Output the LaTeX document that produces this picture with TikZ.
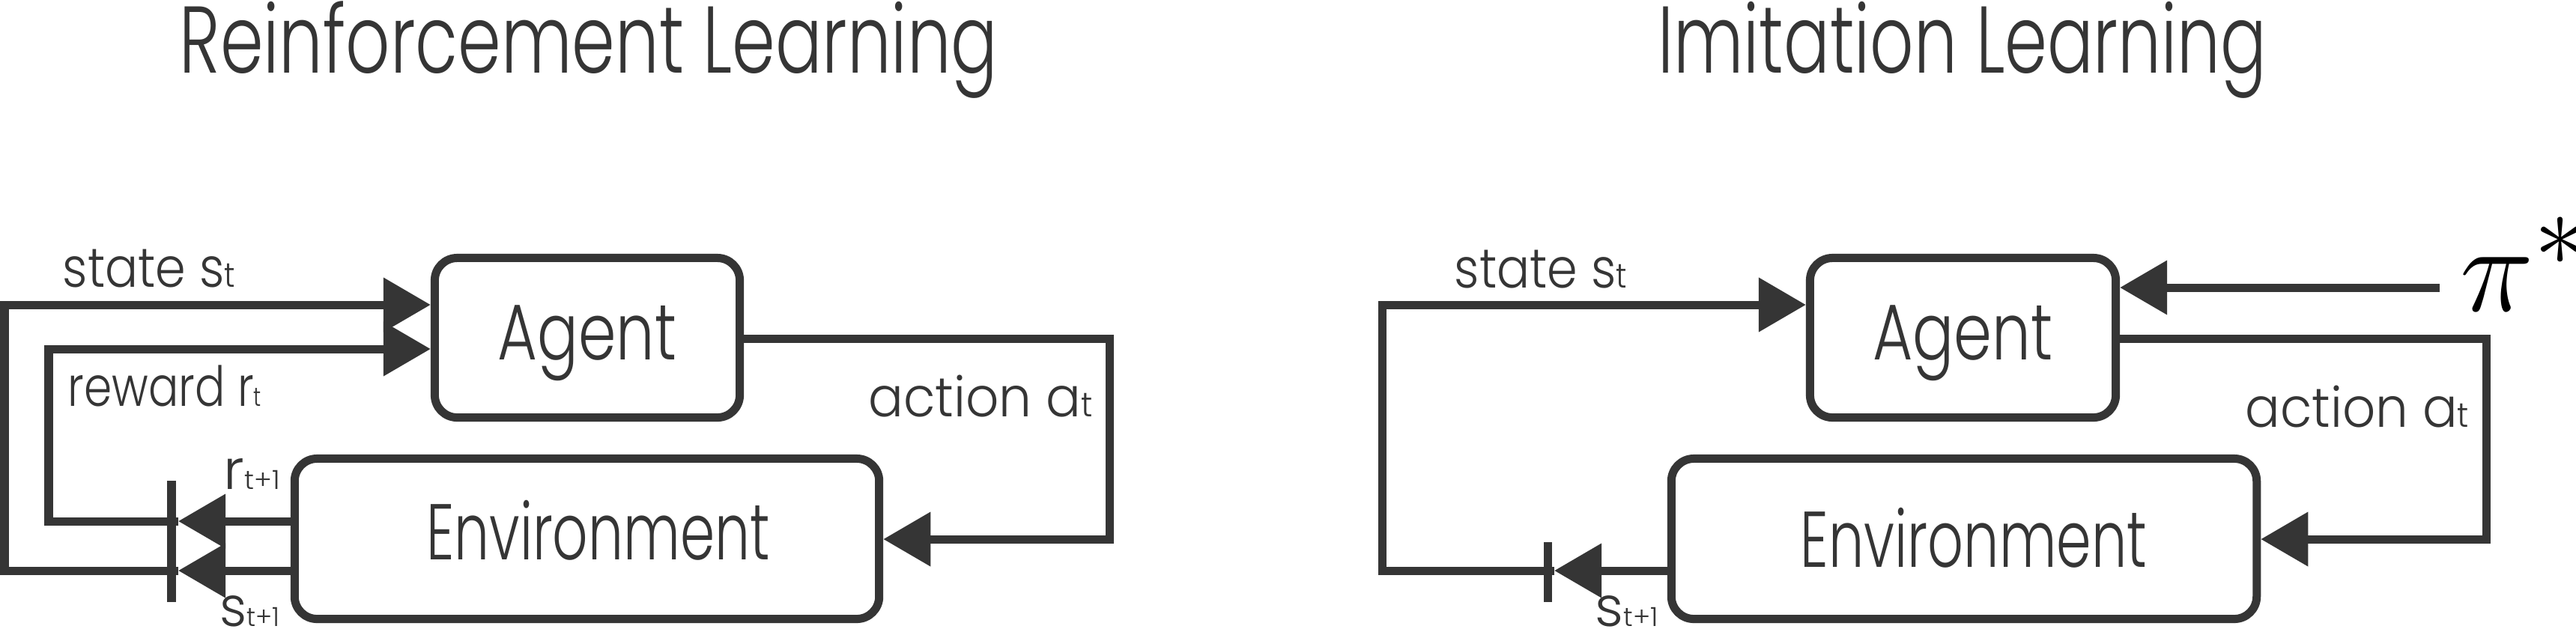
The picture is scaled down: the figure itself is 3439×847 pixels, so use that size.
\documentclass[tikz,border=0pt]{standalone}
\usepackage{fontspec}
\usepackage{graphicx}
\IfFontExistsTF{Poppins Light}{\setmainfont{Poppins Light}}{\setmainfont{Poppins}}
\usetikzlibrary{arrows.meta}
\definecolor{ink}{HTML}{353535}
\newcommand{\fitw}[3]{\resizebox{#1}{\height}{\fontsize{#2}{#2}\selectfont #3}}
\newcommand{\smalltxt}[2]{{\fontsize{#1}{#1}\selectfont #2}}
\tikzset{
  box/.style={draw=ink, line width=0.11cm, rounded corners=0.3cm, inner sep=0pt, text=ink},
  conn/.style={draw=ink, line width=0.11cm},
  arr/.style={conn, -{Triangle[length=0.63cm,width=0.70cm]}},
  lbl/.style={anchor=base west, inner sep=0pt, text=ink},
}
\begin{document}
\begin{tikzpicture}[x=0.01cm, y=-0.01cm]
\fill[white] (0,0) rectangle (3439,847);
\useasboundingbox (0,0) rectangle (3439,847);

% titles
\node[lbl] (titleL) at (239,97) {\fitw{10.92cm}{36pt}{Reinforcement Learning}};
\node[lbl] (titleR) at (2213,97) {\fitw{8.12cm}{36pt}{Imitation Learning}};

% ---------------- left: reinforcement learning ----------------
\node[box, minimum width=4.07cm, minimum height=2.13cm, text height=0.70cm, text depth=0.12cm]
  (agentL) at (784,451) {\fitw{2.38cm}{30pt}{Agent}};
\node[box, minimum width=7.80cm, minimum height=2.14cm, text height=0.70cm, text depth=0.15cm]
  (envL) at (783.5,719.5) {\hspace*{0.30cm}\fitw{4.58cm}{30pt}{Environment}};

\coordinate (sTipL) at (238,762);
\coordinate (sBotL) at (6,762);
\coordinate (sTopL) at (6,407);
\coordinate (rTipL) at (238,696);
\coordinate (rBotL) at (65,696);
\coordinate (rTopL) at (65,466);
\coordinate (aTopL) at (1481,452);
\coordinate (aBotL) at (1481,720);
\coordinate (tickTopL) at (229,642);
\coordinate (tickBotL) at (229,804);

\draw[arr] (envL.west |- rTipL) -- (rTipL);
\draw[arr] (rTipL) -- (rBotL) -- (rTopL) -- (agentL.west |- rTopL);
\draw[arr] (envL.west |- sTipL) -- (sTipL);
\draw[arr] (sTipL) -- (sBotL) -- (sTopL) -- (agentL.west |- sTopL);
\draw[arr] (agentL.east |- aTopL) -- (aTopL) -- (aBotL) -- (envL.east |- aBotL);
\draw[conn] (tickTopL) -- (tickBotL);

\node[lbl] (stateL) at (83,383) {\fitw{2.30cm}{21pt}{state s\smalltxt{13pt}{t}}};
\node[lbl] (rewardL) at (90,542) {\fitw{2.58cm}{21pt}{reward r\smalltxt{10pt}{t}}};
\node[lbl] (rnextL) at (298,653) {\fitw{0.75cm}{21pt}{r\smalltxt{10pt}{t+1}}};
\node[lbl] (snextL) at (293,836) {\fitw{0.80cm}{21pt}{s\smalltxt{10pt}{t+1}}};
\node[lbl] (actionL) at (1159,556) {\fitw{2.99cm}{21pt}{action a\smalltxt{13pt}{t}}};

% ---------------- right: imitation learning ----------------
\node[box, minimum width=4.08cm, minimum height=2.13cm, text height=0.70cm, text depth=0.12cm]
  (agentR) at (2620.5,451) {\fitw{2.40cm}{30pt}{Agent}};
\node[box, minimum width=7.81cm, minimum height=2.14cm, text height=0.85cm, text depth=0.10cm]
  (envR) at (2622,719.5) {\hspace*{0.26cm}\fitw{4.62cm}{30pt}{Environment}};

\node[anchor=base west, inner sep=0pt, text=black] (pistar) at (3284,415)
  {\scalebox{1.9}{\fontsize{24.88pt}{24.88pt}\selectfont$\pi^{*}$}};

\coordinate (sTipR) at (2075,762);
\coordinate (sBotR) at (1845,762);
\coordinate (sTopR) at (1845,407);
\coordinate (aTopR) at (3319,452);
\coordinate (aBotR) at (3319,720);
\coordinate (piStart) at (3257,384);
\coordinate (tickTopR) at (2066,724);
\coordinate (tickBotR) at (2066,804);

\draw[arr] (envR.west |- sTipR) -- (sTipR);
\draw[arr] (sTipR) -- (sBotR) -- (sTopR) -- (agentR.west |- sTopR);
\draw[arr] (agentR.east |- aTopR) -- (aTopR) -- (aBotR) -- (envR.east |- aBotR);
\draw[arr] (piStart) -- (agentR.east |- piStart);
\draw[conn] (tickTopR) -- (tickBotR);

\node[lbl] (stateR) at (1941,384) {\fitw{2.30cm}{21pt}{state s\smalltxt{13pt}{t}}};
\node[lbl] (snextR) at (2129,836) {\fitw{0.84cm}{21pt}{s\smalltxt{10pt}{t+1}}};
\node[lbl] (actionR) at (2997,570) {\fitw{2.98cm}{21pt}{action a\smalltxt{13pt}{t}}};
\end{tikzpicture}
\end{document}
